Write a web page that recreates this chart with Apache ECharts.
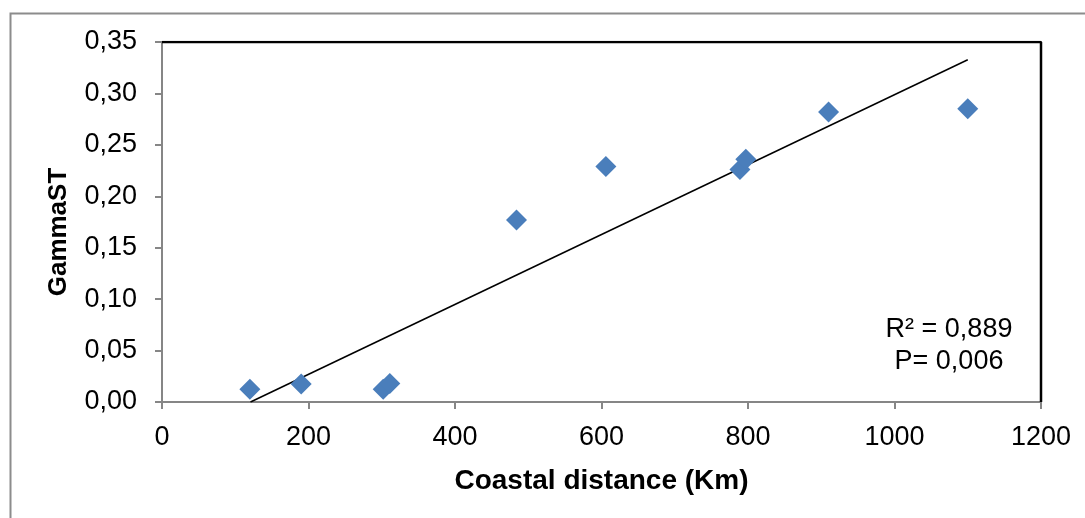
<!DOCTYPE html>
<html>
<head>
<meta charset="utf-8">
<script src="https://cdn.jsdelivr.net/npm/echarts@6/dist/echarts.min.js"></script>
<style>
  html, body { margin: 0; padding: 0; background: #fff; }
  #chart { width: 1085px; height: 518px; }
</style>
</head>
<body>
<div id="chart"></div>
<script>
// coastal distance (km) vs GammaST
var distance = [120, 190, 302, 311, 484, 606, 789, 797, 910, 1100];
var gammaST = [0.0125, 0.0175, 0.0125, 0.0180, 0.177, 0.229, 0.226, 0.236, 0.282, 0.285];
var statsText = ['R² = 0,889', 'P= 0,006'];
var yTitle = 'GammaST';
var xTitle = 'Coastal distance (Km)';

// least squares trend line from the data
function fitLine(xs, ys) {
  var n = xs.length, mx = 0, my = 0, sxy = 0, sxx = 0;
  for (var i = 0; i < n; i++) { mx += xs[i]; my += ys[i]; }
  mx /= n; my /= n;
  for (var j = 0; j < n; j++) {
    sxy += (xs[j] - mx) * (ys[j] - my);
    sxx += (xs[j] - mx) * (xs[j] - mx);
  }
  var b = sxy / sxx, a = my - b * mx;
  var x0 = -a / b, x1 = Math.max.apply(null, xs);
  return [[x0, 0], [x1, a + b * x1]];
}

var points = distance.map(function (d, i) { return [d, gammaST[i]]; });
var trend = fitLine(distance, gammaST);

var comma = function (v, digits) {
  return v.toFixed(digits).replace('.', ',');
};
var font = 'Liberation Sans, Arial, sans-serif';

var chart = echarts.init(document.getElementById('chart'));
chart.setOption({
  animation: false,
  textStyle: { fontFamily: font },
  grid: { left: 162, right: 44, top: 42, bottom: 116 },
  graphic: [
    {
      type: 'rect', z: -1,
      shape: { x: 10.5, y: 13.5, width: 1090, height: 520 },
      style: { fill: 'none', stroke: '#8c8c8c', lineWidth: 2 }
    },
    {
      type: 'text', x: 59, y: 232, rotation: Math.PI / 2,
      style: { text: yTitle, fontSize: 26, fontWeight: 'bold', align: 'center',
               verticalAlign: 'middle', fill: '#000', fontFamily: font }
    },
    {
      type: 'text', x: 949, y: 330,
      style: { text: statsText[0], fontSize: 27, align: 'center', verticalAlign: 'middle',
               fill: '#000', fontFamily: font }
    },
    {
      type: 'text', x: 949, y: 362,
      style: { text: statsText[1], fontSize: 27, align: 'center', verticalAlign: 'middle',
               fill: '#000', fontFamily: font }
    }
  ],
  xAxis: {
    type: 'value', min: 0, max: 1200, interval: 200,
    name: xTitle, nameLocation: 'middle', nameGap: 65,
    nameTextStyle: { fontSize: 28, fontWeight: 'bold', color: '#000' },
    axisLine: { show: true, onZero: false, lineStyle: { color: '#868686', width: 2 } },
    axisTick: { show: true, length: 7, lineStyle: { color: '#868686', width: 2 } },
    axisLabel: { fontSize: 27, color: '#000', margin: 22,
                 formatter: function (v) { return String(v); } },
    splitLine: { show: false }
  },
  yAxis: {
    type: 'value', min: 0, max: 0.35, interval: 0.05,
    axisLine: { show: true, lineStyle: { color: '#868686', width: 2 } },
    axisTick: { show: true, length: 7, lineStyle: { color: '#868686', width: 2 } },
    axisLabel: { fontSize: 27, color: '#000', margin: 25,
                 formatter: function (v) { return comma(v, 2); } },
    splitLine: { show: false }
  },
  series: [
    {
      type: 'line',
      data: trend,
      symbol: 'none',
      lineStyle: { color: '#000', width: 1.5 },
      z: 3
    },
    {
      type: 'scatter',
      data: points,
      symbol: 'diamond',
      symbolSize: [21, 21],
      itemStyle: { color: '#4A7EBB', opacity: 1 },
      z: 4
    },
    {
      // black frame on the top and right side of the plot area
      type: 'line',
      data: [[0, 0.35], [1200, 0.35], [1200, 0]],
      symbol: 'none',
      silent: true,
      lineStyle: { color: '#000', width: 2.5 },
      z: 2
    }
  ]
});
</script>
</body>
</html>
